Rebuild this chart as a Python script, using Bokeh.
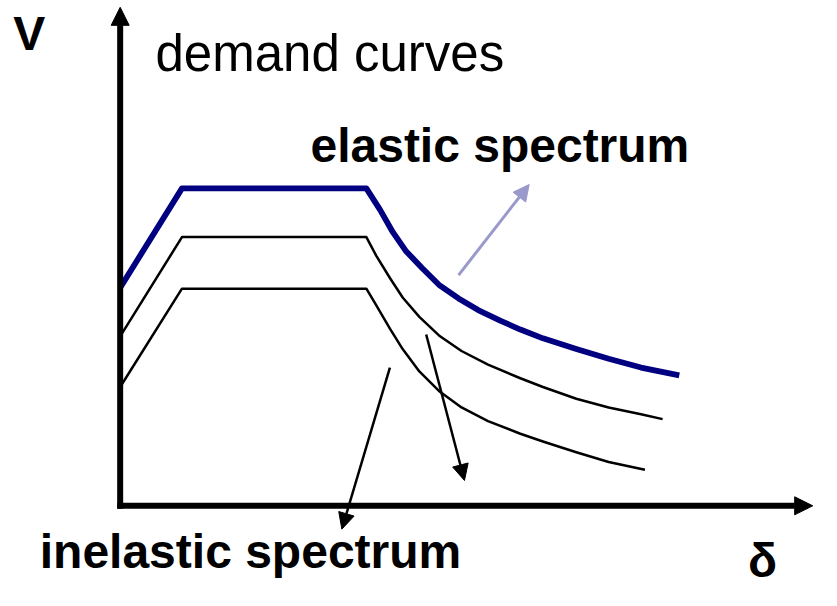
from bokeh.plotting import figure
from bokeh.models import Range1d, Arrow, NormalHead
from bokeh.embed import file_html
from bokeh.resources import INLINE
from bokeh.core.properties import value

# demand curves (delta, V) in drawing units, origin at axis corner
elastic_d = [0, 63, 251, 265, 278, 291, 308, 325, 345, 365, 388, 408, 431, 465, 498, 531, 570]
elastic_v = [224, 326, 326, 304, 281, 262, 244, 227, 213, 201, 190, 181, 172, 161, 151, 142, 134]

inel1_d = [0, 63, 251, 261, 275, 288, 305, 325, 348, 375, 408, 431, 465, 498, 531, 553]
inel1_v = [174, 276, 276, 257, 234, 214, 194, 175, 159, 145, 131, 122, 110, 101, 94, 89]

inel2_d = [0, 63, 251, 261, 275, 288, 305, 325, 348, 375, 408, 431, 465, 498, 535]
inel2_v = [122, 223, 223, 206, 182, 161, 138, 118, 101, 87, 74, 66, 55, 45, 37]

# axes extents
v_axis_top = 512
d_axis_end = 706

# pointer arrows: (start_d, start_v, end_d, end_v)
elastic_pointer = (345, 237, 417, 330)
inel_pointer1 = (312, 176, 351, 26)
inel_pointer2 = (275, 142, 226, -24)

labels = {
    "V": (-109, 485),
    "demand curves": (36, 465),
    "elastic spectrum": (194, 370),
    "inelastic spectrum": (-82, -47),
    "δ": (640, -56),
}

p = figure(width=821, height=590, output_backend="svg", toolbar_location=None,
           x_range=Range1d(-122, 715), y_range=Range1d(-87, 519),
           min_border=0, outline_line_color=None)
p.axis.visible = False
p.grid.visible = False
p.background_fill_color = "white"

font = value("Liberation Sans")

# axes with arrowheads
p.add_layout(Arrow(x_start=0, y_start=-3, x_end=0, y_end=v_axis_top,
                   line_width=6, line_color="black",
                   end=NormalHead(size=18, fill_color="black", line_color="black", line_width=1)))
p.add_layout(Arrow(x_start=-3, y_start=0, x_end=d_axis_end, y_end=0,
                   line_width=6, line_color="black",
                   end=NormalHead(size=18, fill_color="black", line_color="black", line_width=1)))

# curves
p.line(inel1_d, inel1_v, line_color="black", line_width=2.5, line_join="round")
p.line(inel2_d, inel2_v, line_color="black", line_width=2.5, line_join="round")
p.line(elastic_d, elastic_v, line_color="#000080", line_width=5.8, line_join="round")

# pointers
x0, y0, x1, y1 = elastic_pointer
p.add_layout(Arrow(x_start=x0, y_start=y0, x_end=x1, y_end=y1,
                   line_width=3, line_color="#9999CC",
                   end=NormalHead(size=16, fill_color="#9999CC", line_color="#9999CC", line_width=1)))
for (x0, y0, x1, y1) in (inel_pointer1, inel_pointer2):
    p.add_layout(Arrow(x_start=x0, y_start=y0, x_end=x1, y_end=y1,
                       line_width=2.5, line_color="black",
                       end=NormalHead(size=16, fill_color="black", line_color="black", line_width=1)))

# labels
for txt, (x, y) in labels.items():
    bold = txt != "demand curves"
    size = "51px" if not bold else "48px"
    p.text(x=[x], y=[y], text=[txt], text_font=font, text_font_size=size,
           text_font_style="bold" if bold else "normal",
           text_baseline="alphabetic", text_align="left", text_color="black")

open("out.html", "w").write(file_html(p, INLINE))
